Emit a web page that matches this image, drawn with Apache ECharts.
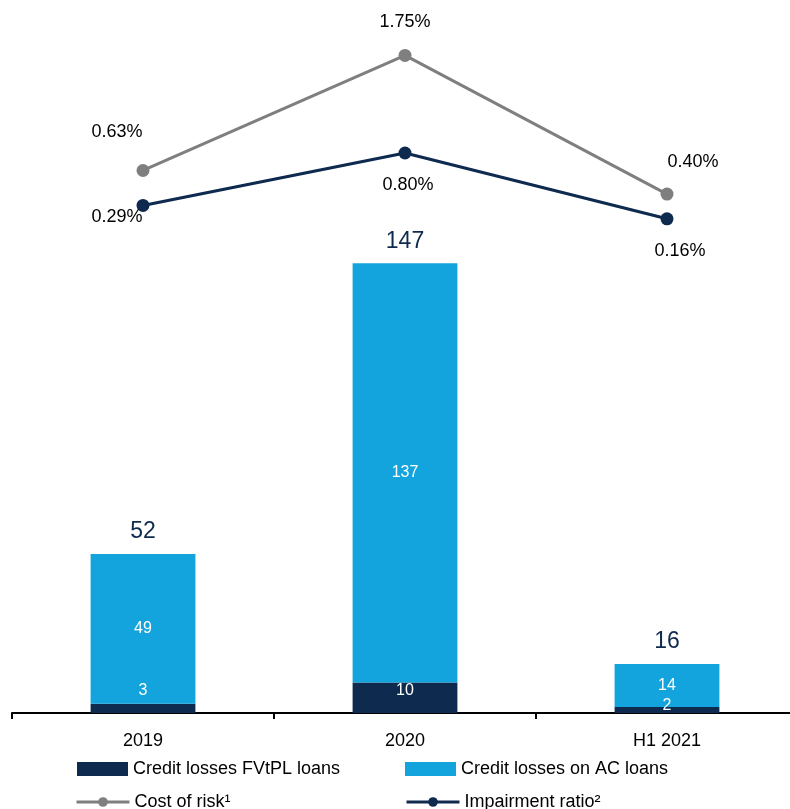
<!DOCTYPE html>
<html><head><meta charset="utf-8">
<script src="https://cdn.jsdelivr.net/npm/echarts@6/dist/echarts.min.js"></script>
<style>html,body{margin:0;padding:0;background:#fff}#c{width:790px;height:809px}</style>
</head><body><div id="c"></div>
<script>
const categories = ['2019', '2020', 'H1 2021'];
const fvtplLoans = [3, 10, 2];
const acLoans = [49, 137, 14];
const totals = [52, 147, 16];
const costOfRisk = [0.63, 1.75, 0.40];
const impairmentRatio = [0.29, 0.80, 0.16];

const NAVY = '#0E2A4E', BLUE = '#13A4DD', GRAY = '#7F7F7F';
const FONT = 'Liberation Sans, Arial, sans-serif';

const fvtplOffsets = [[0, -18], [0, -7], [0, -4]];
const corOffsets = [[-26, -38], [0, -33], [26, -32]];
const impOffsets = [[-26, 12], [3, 32], [13, 32]];

const chart = echarts.init(document.getElementById('c'), null, {renderer: 'canvas'});
chart.setOption({
  animation: false,
  textStyle: {fontFamily: FONT},
  grid: {left: 12, width: 786, top: 40, bottom: 96, outerBoundsMode: 'none', containLabel: false},
  xAxis: {
    type: 'category', data: categories,
    axisLine: {lineStyle: {color: '#000', width: 2}},
    axisTick: {show: true, length: 6, lineStyle: {color: '#000', width: 2}},
    axisLabel: {color: '#000', fontSize: 18, margin: 19, fontFamily: FONT}
  },
  yAxis: [
    {type: 'value', min: 0, max: 220, show: false, splitLine: {show: false}},
    {type: 'value', min: -4.65, max: 1.9, show: false, splitLine: {show: false}}
  ],
  legend: [
    {data: ['Credit losses FVtPL loans'], left: 72, top: 755, itemWidth: 51, itemHeight: 14, icon: 'rect',
     textStyle: {fontSize: 18, color: '#000', fontFamily: FONT}},
    {data: ['Credit losses on AC loans'], left: 400, top: 755, itemWidth: 51, itemHeight: 14, icon: 'rect',
     textStyle: {fontSize: 18, color: '#000', fontFamily: FONT}},
    {data: ['Cost of risk¹'], left: 70, top: 788, itemWidth: 53, itemHeight: 12,
     lineStyle: {width: 3},
     textStyle: {fontSize: 18, color: '#000', fontFamily: FONT}},
    {data: ['Impairment ratio²'], left: 400, top: 788, itemWidth: 53, itemHeight: 12,
     lineStyle: {width: 3},
     textStyle: {fontSize: 18, color: '#000', fontFamily: FONT}}
  ],
  series: [
    {
      name: 'Credit losses FVtPL loans', type: 'bar', stack: 'loss', barWidth: '40%',
      itemStyle: {color: NAVY},
      data: fvtplLoans.map((v, i) => ({value: v, label: {offset: fvtplOffsets[i]}})),
      label: {show: true, position: 'inside', color: '#fff', fontSize: 16, fontFamily: FONT}
    },
    {
      name: 'Credit losses on AC loans', type: 'bar', stack: 'loss', barWidth: '40%',
      itemStyle: {color: BLUE},
      data: acLoans,
      label: {show: true, position: 'inside', color: '#fff', fontSize: 16, fontFamily: FONT}
    },
    {
      name: 'Total', type: 'scatter', data: totals, symbolSize: 1,
      itemStyle: {color: 'rgba(0,0,0,0)', opacity: 1},
      label: {show: true, position: 'top', distance: 10, color: NAVY, opacity: 1, fontSize: 23, fontFamily: FONT},
      emphasis: {disabled: true},
      silent: true, z: 5
    },
    {
      name: 'Cost of risk¹', type: 'line', yAxisIndex: 1, symbol: 'circle', symbolSize: 13,
      lineStyle: {color: GRAY, width: 3}, itemStyle: {color: GRAY},
      data: costOfRisk.map((v, i) => ({value: v, label: {offset: corOffsets[i]}})),
      label: {show: true, position: 'inside', color: '#000', fontSize: 18, fontFamily: FONT,
              formatter: p => p.value.toFixed(2) + '%'}
    },
    {
      name: 'Impairment ratio²', type: 'line', yAxisIndex: 1, symbol: 'circle', symbolSize: 13,
      lineStyle: {color: NAVY, width: 3}, itemStyle: {color: NAVY},
      data: impairmentRatio.map((v, i) => ({value: v, label: {offset: impOffsets[i]}})),
      label: {show: true, position: 'inside', color: '#000', fontSize: 18, fontFamily: FONT,
              formatter: p => p.value.toFixed(2) + '%'}
    }
  ]
});
</script></body></html>
